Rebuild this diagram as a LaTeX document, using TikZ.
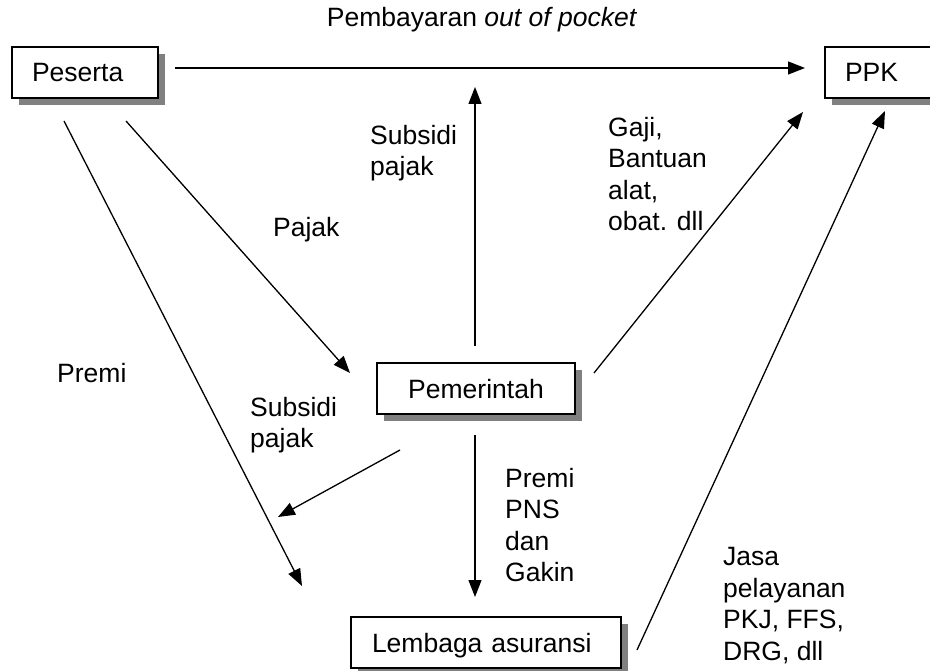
\documentclass[tikz,border=0pt]{standalone}
\usepackage{fontspec}
\setmainfont{Liberation Sans}
\usetikzlibrary{arrows.meta,shadows}
\tikzset{
  every node/.style={font=\fontsize{26.5pt}{31.5pt}\selectfont},
  box/.style={draw=black,line width=1.3pt,fill=white,minimum height=51pt,
    inner ysep=0pt,text height=19pt,text depth=0pt,
    drop shadow={shadow xshift=7pt,shadow yshift=-7pt,fill=black!50,opacity=1}},
  lbl/.style={inner sep=0pt,align=left},
  flow/.style={line width=1.3pt,-{Triangle[length=17pt,width=13pt]}},
}
\begin{document}
\begin{tikzpicture}[x=1pt,y=-1pt]
\useasboundingbox (0,0) rectangle (930,671);
% boxes
\node[box,minimum width=146pt,text width=106pt,inner xsep=20pt,align=left] (peserta) at (85,72.5) {Peserta};
\node[box,minimum width=115pt,text width=75pt,inner xsep=20pt,align=left] (ppk) at (882.5,72.5) {PPK};
\node[box,minimum width=198pt,text width=138pt,inner xsep=30pt,align=center] (pemerintah) at (476,388.5) {Pemerintah};
\node[box,minimum width=270pt,text width=228pt,inner xsep=21pt,align=left] (lembaga) at (486,642.5) {Lembaga asuransi};
% connector end points
\coordinate (p1) at (175,68);   \coordinate (k1) at (805,68);
\coordinate (g1) at (475,346);  \coordinate (s1) at (475,87);
\coordinate (g2) at (594,373);  \coordinate (k2) at (803,112);
\coordinate (l1) at (637,650);  \coordinate (k3) at (885,111);
\coordinate (p2) at (126,121);  \coordinate (g3) at (350,373);
\coordinate (p3) at (64,121);   \coordinate (l2) at (302,586);
\coordinate (g4) at (400,450);  \coordinate (s2) at (278,517);
\coordinate (g5) at (475,435);  \coordinate (l3) at (475,597);
% connectors
\draw[flow] (p1) -- (k1);
\draw[flow] (g1) -- (s1);
\draw[flow] (g2) -- (k2);
\draw[flow] (l1) -- (k3);
\draw[flow] (p2) -- (g3);
\draw[flow] (p3) -- (l2);
\draw[flow] (g4) -- (s2);
\draw[flow] (g5) -- (l3);
% labels
\node[inner sep=0pt,anchor=base] (t1) at (482,27) {Pembayaran \textit{out of pocket}};
\node[lbl,anchor=west] (t2) at (370,153) {Subsidi\\pajak};
\node[lbl,anchor=west] (t3) at (608,174) {Gaji,\\Bantuan\\alat,\\obat. dll};
\node[lbl,anchor=base west] (t4) at (273,237) {Pajak};
\node[lbl,anchor=base west] (t5) at (57,382) {Premi};
\node[lbl,anchor=west] (t6) at (250,425) {Subsidi\\pajak};
\node[lbl,anchor=west] (t7) at (505,525) {Premi\\PNS\\dan\\Gakin};
\node[lbl,anchor=west] (t8) at (723,605.5) {Jasa\\pelayanan\\PKJ, FFS,\\DRG, dll};
\end{tikzpicture}
\end{document}
